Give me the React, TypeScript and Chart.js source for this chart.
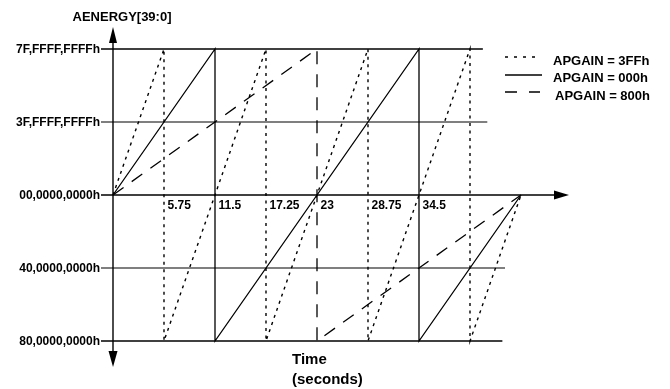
import React, { useEffect, useRef } from "react";
import { Chart, registerables } from "chart.js";

Chart.register(...registerables);

// ---- data ----
const yTickValues = [2, 1, 0, -1, -2];
const yTickLabels = ["7F,FFFF,FFFFh", "3F,FFFF,FFFFh", "00,0000,0000h", "40,0000,0000h", "80,0000,0000h"];
const xTickValues = [5.75, 11.5, 17.25, 23, 28.75, 34.5];
const xTickLabels = ["5.75", "11.5", "17.25", "23", "28.75", "34.5"];
const seriesNames = ["APGAIN = 3FFh", "APGAIN = 000h", "APGAIN = 800h"];
const apgain3FFTime = [0, 5.75, 5.75, 17.25, 17.25, 28.75, 28.75, 40.25, 40.25, 46];
const apgain3FFEnergy = [0, 2, -2, 2, -2, 2, -2, 2, -2, 0];
const apgain000Time = [0, 11.5, 11.5, 34.5, 34.5, 46];
const apgain000Energy = [0, 2, -2, 2, -2, 0];
const apgain800Time = [0, 23, 23, 46];
const apgain800Energy = [0, 2, -2, 0];

// ---- styles ----
const FONT = "'Liberation Sans', Arial, Helvetica, sans-serif";
const refLineEnds = [41.7, 42.2, 0, 44.2, 43.9];
const refLineColors = ["#000", "#555", "#000", "#555", "#000"];
const refLineWidths = [1.3, 1.6, 1.3, 1.6, 1.3];
const seriesDash = [[3, 4.5], [], [13, 10]];
const seriesWidths = [1.4, 1.3, 1.3];
const legendDash = [[3, 6], [], [12, 12]];

const zip = (xs: number[], ys: number[]) => xs.map((v, i) => ({ x: v, y: ys[i] }));

const overlay = {
  id: "overlay",
  beforeDatasetsDraw(chart: any) {
    const { ctx } = chart;
    const xs = chart.scales.x;
    const ys = chart.scales.y;
    const ax = xs.getPixelForValue(0);
    const ay = ys.getPixelForValue(0);
    ctx.save();
    // horizontal reference lines
    yTickValues.forEach((v, i) => {
      const py = ys.getPixelForValue(v);
      if (v === 0) return;
      ctx.strokeStyle = refLineColors[i];
      ctx.lineWidth = refLineWidths[i];
      ctx.beginPath();
      ctx.moveTo(ax - 12, py);
      ctx.lineTo(xs.getPixelForValue(refLineEnds[i]), py);
      ctx.stroke();
    });
    // x axis with arrow
    ctx.lineWidth = 1.4;
    ctx.strokeStyle = "#000";
    ctx.fillStyle = "#000";
    ctx.beginPath();
    ctx.moveTo(ax - 12, ay);
    ctx.lineTo(554, ay);
    ctx.stroke();
    ctx.beginPath();
    ctx.moveTo(554, ay - 4.5);
    ctx.lineTo(569, ay);
    ctx.lineTo(554, ay + 4.5);
    ctx.closePath();
    ctx.fill();
    // y axis with arrows
    ctx.beginPath();
    ctx.moveTo(ax, 43);
    ctx.lineTo(ax, 352);
    ctx.stroke();
    ctx.beginPath();
    ctx.moveTo(ax - 4, 43);
    ctx.lineTo(ax, 27);
    ctx.lineTo(ax + 4, 43);
    ctx.closePath();
    ctx.fill();
    ctx.beginPath();
    ctx.moveTo(ax - 4.5, 351);
    ctx.lineTo(ax, 367);
    ctx.lineTo(ax + 4.5, 351);
    ctx.closePath();
    ctx.fill();
    ctx.restore();
  },
  afterDatasetsDraw(chart: any) {
    const { ctx } = chart;
    const xs = chart.scales.x;
    const ys = chart.scales.y;
    const ax = xs.getPixelForValue(0);
    const ay = ys.getPixelForValue(0);
    ctx.save();
    ctx.fillStyle = "#000";
    ctx.textBaseline = "middle";
    // y tick labels
    ctx.font = `bold 12px ${FONT}`;
    ctx.textAlign = "right";
    yTickValues.forEach((v, i) => {
      ctx.fillText(yTickLabels[i], ax - 13, ys.getPixelForValue(v) + 0.5);
    });
    // x tick labels
    ctx.textAlign = "left";
    xTickValues.forEach((v, i) => {
      ctx.fillText(xTickLabels[i], xs.getPixelForValue(v) + 3.5, ay + 11);
    });
    // title
    ctx.font = `bold 13px ${FONT}`;
    ctx.textAlign = "center";
    ctx.fillText("AENERGY[39:0]", 122, 17);
    // x label
    ctx.font = `bold 15px ${FONT}`;
    ctx.textAlign = "left";
    ctx.fillText("Time", 292, 360);
    ctx.fillText("(seconds)", 292, 380);
    // legend
    const rows = [
      { ly: 57, ty: 61, x1: 535, tx: 553 },
      { ly: 75, ty: 78.5, x1: 542, tx: 553 },
      { ly: 92, ty: 96, x1: 540, tx: 555 },
    ];
    ctx.font = `bold 13px ${FONT}`;
    rows.forEach((r, i) => {
      ctx.strokeStyle = "#000";
      ctx.lineWidth = 1.3;
      ctx.setLineDash(legendDash[i]);
      ctx.beginPath();
      ctx.moveTo(505, r.ly);
      ctx.lineTo(r.x1, r.ly);
      ctx.stroke();
      ctx.setLineDash([]);
      ctx.fillText(seriesNames[i], r.tx, r.ty);
    });
    ctx.restore();
  },
};

export default function App() {
  const ref = useRef<HTMLCanvasElement>(null);
  useEffect(() => {
    if (!ref.current) return;
    const series = [
      zip(apgain3FFTime, apgain3FFEnergy),
      zip(apgain000Time, apgain000Energy),
      zip(apgain800Time, apgain800Energy),
    ];
    const chart = new Chart(ref.current, {
      type: "line",
      data: {
        datasets: series.map((d, i) => ({
          label: seriesNames[i],
          data: d,
          borderColor: "#000",
          borderWidth: seriesWidths[i],
          borderDash: seriesDash[i],
          pointRadius: 0,
          fill: false,
          tension: 0,
          clip: false,
        })),
      },
      options: {
        responsive: false,
        animation: false,
        devicePixelRatio: 1,
        layout: { padding: { left: 113, right: 149, top: 49, bottom: 48 } },
        plugins: { legend: { display: false }, tooltip: { enabled: false } },
        scales: {
          x: { type: "linear", min: 0, max: 46, display: false },
          y: { type: "linear", min: -2, max: 2, display: false },
        },
      },
      plugins: [overlay],
    } as any);
    return () => chart.destroy();
  }, []);
  return (
    <div style={{ position: "absolute", left: 0, top: 0, width: 670, height: 389, background: "#fff" }}>
      <canvas ref={ref} width={670} height={389} />
    </div>
  );
}
